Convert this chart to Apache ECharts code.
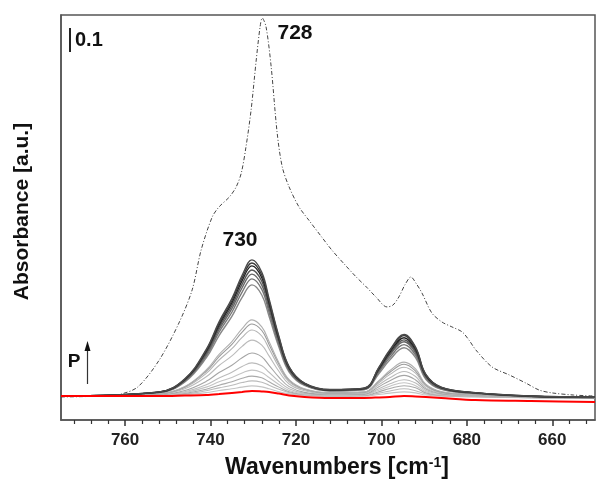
<!DOCTYPE html>
<html>
<head>
<meta charset="utf-8">
<script src="https://cdn.jsdelivr.net/npm/echarts@6/dist/echarts.min.js"></script>
<style>
html,body{margin:0;padding:0;background:#fff;}
#chart{width:596px;height:489px;}
</style>
</head>
<body>
<div id="chart"></div>
<script>
// wavenumber grid shared by the gray spectra and the red one
var waveGrid = [775, 752, 746, 741, 738, 735, 732.6, 730.3, 728, 726.3, 724, 721.6, 718, 712, 704, 700.6, 698, 694.7, 692, 689.6, 686, 678, 665, 650];

// gray spectra, strongest first (absorbance read at each waveGrid point)
var grayCurves = [
	[0, .017, .072, .194, .309, .406, .503, .567, .516, .406, .249, .122, .054, .027, .033, .119, .193, .256, .204, .090, .037, .014, 0, -.005],
	[0, .017, .070, .190, .302, .397, .492, .554, .504, .397, .244, .120, .053, .026, .033, .117, .189, .252, .200, .089, .036, .014, 0, -.005],
	[0, .016, .069, .186, .295, .388, .481, .542, .493, .388, .238, .117, .052, .025, .031, .113, .183, .243, .194, .086, .035, .013, -.001, -.005],
	[0, .016, .067, .180, .286, .376, .466, .525, .478, .376, .231, .113, .050, .025, .031, .110, .176, .234, .186, .083, .033, .013, -.001, -.005],
	[0, .015, .065, .174, .277, .364, .451, .508, .462, .364, .224, .110, .048, .024, .029, .105, .171, .226, .180, .080, .032, .012, -.001, -.006],
	[0, .015, .062, .167, .266, .349, .433, .488, .444, .349, .215, .105, .046, .022, .028, .100, .161, .214, .170, .075, .030, .011, -.002, -.006],
	[0, .014, .059, .159, .252, .332, .411, .463, .421, .332, .204, .100, .044, .021, .026, .093, .151, .201, .160, .070, .028, .010, -.002, -.006],
	[0, .010, .040, .109, .173, .227, .281, .317, .288, .227, .139, .068, .030, .013, .017, .064, .106, .141, .113, .049, .019, .005, -.004, -.007],
	[0, .009, .038, .103, .164, .215, .266, .300, .273, .215, .132, .065, .028, .013, .016, .061, .099, .132, .104, .046, .017, .005, -.004, -.007],
	[0, .008, .035, .094, .150, .197, .244, .275, .250, .197, .121, .059, .026, .010, .014, .055, .090, .120, .095, .041, .015, .004, -.004, -.008],
	[0, .007, .030, .080, .127, .167, .207, .233, .212, .167, .103, .050, .022, .008, .011, .047, .076, .102, .081, .034, .013, .002, -.005, -.008],
	[0, .005, .023, .061, .098, .128, .159, .179, .163, .128, .079, .039, .015, .006, .008, .039, .064, .086, .067, .029, .010, .001, -.005, -.008],
	[0, .004, .018, .047, .075, .099, .123, .138, .126, .099, .061, .030, .011, .003, .006, .030, .051, .068, .054, .023, .007, 0, -.006, -.009],
	[0, .003, .014, .037, .059, .077, .096, .108, .098, .077, .048, .023, .008, .002, .004, .024, .041, .055, .043, .018, .005, -.001, -.006, -.009],
	[0, .002, .011, .028, .045, .059, .074, .083, .076, .059, .037, .018, .006, .001, .002, .018, .031, .043, .034, .013, .003, -.002, -.007, -.009],
	[0, .002, .008, .022, .034, .045, .056, .063, .057, .045, .028, .014, .004, 0, .001, .012, .021, .030, .022, .008, .001, -.003, -.007, -.009],
	[0, .001, .005, .014, .023, .030, .037, .042, .038, .030, .018, .009, .002, -.002, -.001, .006, .012, .017, .013, .004, -.001, -.004, -.007, -.010]
];
var grayColors = ['#4a4a4a', '#3a3a3a', '#222', '#555', '#666', '#777', '#888', '#b0b0b0', '#999', '#b5b5b5', '#bbb', '#a5a5a5', '#bbb', '#c4c4c4', '#aaa', '#bbb', '#c4c4c4'];

// red spectrum
var redCurve = [0, 0, .002, .004, .008, .013, .017, .021, .019, .017, .010, .002, -.004, -.008, -.008, -.006, -.004, 0, -.002, -.004, -.008, -.017, -.021, -.025];

// dash-dot reference spectrum
var refWave = [775, 765, 761, 757, 752, 747.4, 744.3, 742.2, 739.6, 738, 735.6, 734, 732.8, 731.7, 730.5, 729.3, 728.4, 727.9, 727, 725.8, 724.4, 723.2, 721.6, 719.3, 717, 714, 711.6, 708.5, 705.9, 703.5, 701.3, 698.7, 697.3, 695.9, 694.5, 693.1, 691.8, 690.5, 688.2, 685.8, 683.5, 681.1, 679.5, 677.9, 674.1, 670.1, 666.2, 663.1, 660.1, 655, 650.2];
var refAbs = [-.004, 0, .008, .038, .150, .304, .442, .608, .746, .788, .829, .871, .929, 1.038, 1.192, 1.400, 1.538, 1.575, 1.538, 1.371, 1.096, .954, .871, .788, .733, .663, .608, .546, .496, .454, .413, .371, .379, .413, .463, .496, .467, .429, .346, .308, .288, .267, .233, .192, .121, .088, .054, .025, .013, .004, 0];

var majorTicks = [760, 740, 720, 700, 680, 660];
var minorTicks = [772, 768, 764, 756, 752, 748, 744, 736, 732, 728, 724, 716, 712, 708, 704, 696, 692, 688, 684, 676, 672, 668, 664, 656, 652];

function pairs(xs, ys){
	var out = [];
	for(var i=0;i<xs.length;i++){
		out.push([xs[i], ys[i]]);
	}
	return out;
}

var font = "'Liberation Sans', Arial, sans-serif";
var chart = echarts.init(document.getElementById("chart"));

var series = [];
series.push({
	type: 'line',
	data: pairs(refWave, refAbs),
	showSymbol: false,
	smooth: 0.3,
	lineStyle: {color: '#444', width: 1, type: [4, 2, 1, 2]},
	z: 2
});
// light ones first so the dark ones sit on top
for(var i=grayCurves.length-1;i>=0;i--){
	series.push({
		type: 'line',
		data: pairs(waveGrid, grayCurves[i]),
		showSymbol: false,
		smooth: 0.4,
		lineStyle: {color: grayColors[i], width: i < 7 ? 1.4 : 1.1},
		z: 3
	});
}
series.push({
	type: 'line',
	data: pairs(waveGrid, redCurve),
	showSymbol: false,
	smooth: 0.3,
	lineStyle: {color: '#ff0000', width: 2},
	z: 4
});

var option = {
	animation: false,
	grid: {left: 61, right: 1, top: 15, bottom: 69, show: true, borderColor: '#555', borderWidth: 1.5},
	xAxis: [
		{
			type: 'value', min: 650, max: 775, inverse: true, position: 'bottom',
			axisLine: {show: true, onZero: false, lineStyle: {color: '#555', width: 1.5}},
			axisTick: {show: true, customValues: majorTicks, length: 6, lineStyle: {color: '#333', width: 1.5}},
			axisLabel: {customValues: majorTicks, color: '#222', fontWeight: 'bold', fontSize: 17, fontFamily: font, margin: 12},
			splitLine: {show: false},
			name: 'Wavenumbers [cm{sup|-1}]',
			nameLocation: 'middle',
			nameGap: 36,
			nameTextStyle: {
				color: '#111', fontWeight: 'bold', fontSize: 23, fontFamily: font, padding: [0, 0, 0, 18],
				rich: {sup: {fontSize: 14, fontWeight: 'bold', fontFamily: font, color: '#111', verticalAlign: 'top', padding: [0, 0, 9, 0]}}
			}
		},
		{
			type: 'value', min: 650, max: 775, inverse: true, position: 'bottom',
			axisLine: {show: false, onZero: false},
			axisTick: {show: true, customValues: minorTicks, length: 4, lineStyle: {color: '#333', width: 1.2}},
			axisLabel: {show: false},
			splitLine: {show: false}
		}
	],
	yAxis: {
		type: 'value', min: -0.1, max: 1.5875,
		axisLine: {show: true, onZero: false, lineStyle: {color: '#555', width: 1.5}},
		axisTick: {show: false},
		axisLabel: {show: false},
		splitLine: {show: false},
		name: 'Absorbance [a.u.]',
		nameLocation: 'middle',
		nameGap: 28,
		nameTextStyle: {color: '#111', fontWeight: 'bold', fontSize: 21, fontFamily: font, padding: [0, 0, 0, 12]}
	},
	graphic: [
		{type: 'line', shape: {x1: 70, y1: 28, x2: 70, y2: 52}, style: {stroke: '#222', lineWidth: 2}},
		{type: 'text', x: 75, y: 40, style: {text: '0.1', fill: '#111', font: 'bold 20px ' + font, textVerticalAlign: 'middle'}},
		{type: 'text', x: 295, y: 33, style: {text: '728', fill: '#111', font: 'bold 21px ' + font, textAlign: 'center', textVerticalAlign: 'middle'}},
		{type: 'text', x: 240, y: 240, style: {text: '730', fill: '#111', font: 'bold 21px ' + font, textAlign: 'center', textVerticalAlign: 'middle'}},
		{type: 'text', x: 74, y: 362, style: {text: 'P', fill: '#111', font: 'bold 19px ' + font, textAlign: 'center', textVerticalAlign: 'middle'}},
		{type: 'line', shape: {x1: 87.5, y1: 384, x2: 87.5, y2: 349}, style: {stroke: '#333', lineWidth: 1.2}},
		{type: 'polygon', shape: {points: [[84.5, 351], [87.5, 341], [90.5, 351]]}, style: {fill: '#111'}}
	],
	series: series
};

chart.setOption(option);
</script>
</body>
</html>
